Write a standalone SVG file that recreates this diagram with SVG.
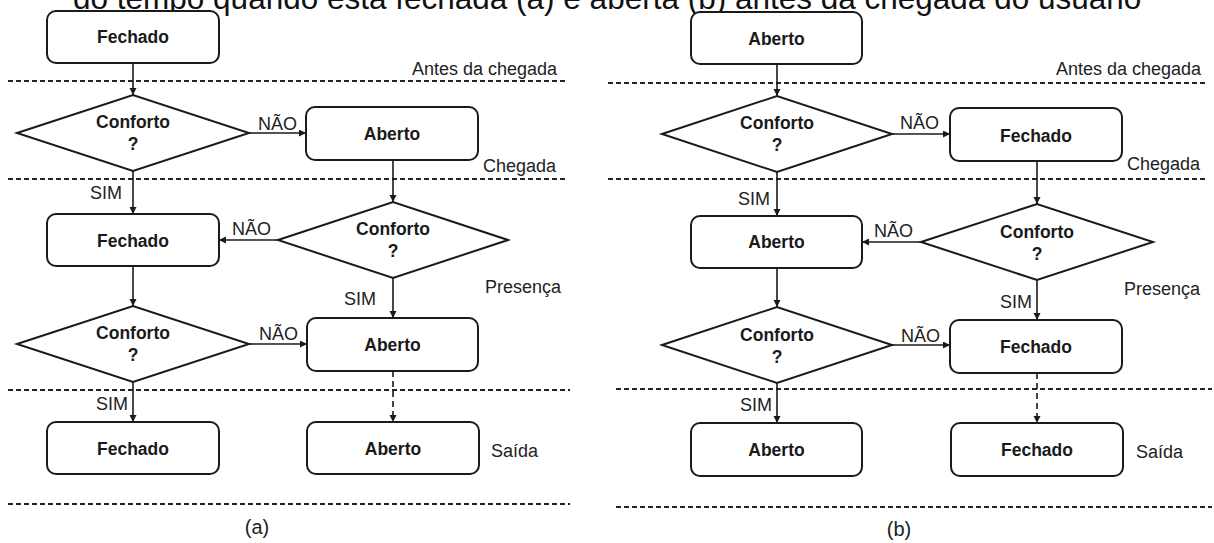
<svg xmlns="http://www.w3.org/2000/svg" width="1214" height="543" viewBox="0 0 1214 543">
<style>
.box{fill:#fff;stroke:#1a1a1a;stroke-width:2}
.dia{fill:#fff;stroke:#1a1a1a;stroke-width:2;stroke-linejoin:miter}
.nt{font-family:"Liberation Sans",Arial,sans-serif;font-weight:bold;font-size:17.5px;fill:#1a1a1a;text-anchor:middle}
.lb{font-family:"Liberation Sans",Arial,sans-serif;font-size:18px;fill:#222}
.end{text-anchor:end}
.mid{text-anchor:middle}
.sep{stroke:#222;stroke-width:1.8;stroke-dasharray:5 3;fill:none}
.conn{stroke:#1a1a1a;stroke-width:1.6;fill:none;marker-end:url(#ah)}
.dconn{stroke:#1a1a1a;stroke-width:1.6;fill:none;stroke-dasharray:6 4;marker-end:url(#ah)}
</style>
<defs>
<marker id="ah" markerUnits="userSpaceOnUse" markerWidth="8" markerHeight="8" refX="7" refY="3.5" orient="auto"><path d="M0,0 L7,3.5 L0,7 z" fill="#1a1a1a"/></marker>
</defs>
<rect width="1214" height="543" fill="#fff"/>
<text x="73" y="9" style="font-family:'Liberation Sans',Arial,sans-serif;font-size:31.5px;fill:#111">do tempo quando está fechada (a) e aberta (b) antes da chegada do usuário</text>

<g id="phases">
<line class="sep" x1="8" y1="81" x2="566" y2="81"/>
<line class="sep" x1="8" y1="179" x2="566" y2="179"/>
<line class="sep" x1="8" y1="390" x2="570" y2="390"/>
<line class="sep" x1="8" y1="504" x2="570" y2="504"/>
<text class="lb end" x="557" y="75">Antes da chegada</text>
<text class="lb end" x="556" y="172">Chegada</text>
<text class="lb" x="485" y="293">Presença</text>
<text class="lb" x="491" y="457">Saída</text>
<text class="lb mid" x="257" y="534" style="font-size:20px">(a)</text>
<line class="sep" x1="608" y1="83" x2="1205" y2="83"/>
<line class="sep" x1="608" y1="179" x2="1207" y2="179"/>
<line class="sep" x1="616" y1="389" x2="1212" y2="389"/>
<line class="sep" x1="616" y1="507" x2="1212" y2="507"/>
<text class="lb end" x="1201" y="75">Antes da chegada</text>
<text class="lb end" x="1200" y="170">Chegada</text>
<text class="lb" x="1124" y="295">Presença</text>
<text class="lb" x="1136" y="458">Saída</text>
<text class="lb mid" x="899" y="536" style="font-size:20px">(b)</text>
</g>

<g id="connectors">
<line class="conn" x1="133" y1="63" x2="133" y2="95"/>
<line class="conn" x1="249" y1="133" x2="306" y2="133"/>
<line class="conn" x1="393" y1="160" x2="393" y2="202"/>
<line class="conn" x1="133" y1="171" x2="133" y2="214"/>
<line class="conn" x1="278" y1="240" x2="219" y2="240"/>
<line class="conn" x1="133" y1="266" x2="133" y2="306"/>
<line class="conn" x1="393" y1="278" x2="393" y2="318"/>
<line class="conn" x1="249" y1="344" x2="307" y2="344"/>
<line class="conn" x1="133" y1="382" x2="133" y2="422"/>
<line class="dconn" x1="393" y1="371" x2="393" y2="422"/>
<text class="lb" x="258" y="130">NÃO</text>
<text class="lb" x="232" y="235">NÃO</text>
<text class="lb" x="259" y="340">NÃO</text>
<text class="lb" x="90" y="199">SIM</text>
<text class="lb" x="344" y="305">SIM</text>
<text class="lb" x="96" y="410">SIM</text>

<line class="conn" x1="777" y1="64" x2="777" y2="96"/>
<line class="conn" x1="892" y1="134" x2="950" y2="134"/>
<line class="conn" x1="1037" y1="161" x2="1037" y2="204"/>
<line class="conn" x1="777" y1="172" x2="777" y2="216"/>
<line class="conn" x1="921" y1="242" x2="862" y2="242"/>
<line class="conn" x1="777" y1="268" x2="777" y2="307"/>
<line class="conn" x1="1037" y1="280" x2="1037" y2="320"/>
<line class="conn" x1="892" y1="345" x2="950" y2="345"/>
<line class="conn" x1="777" y1="383" x2="777" y2="423"/>
<line class="dconn" x1="1037" y1="373" x2="1037" y2="423"/>
<text class="lb" x="900" y="129">NÃO</text>
<text class="lb" x="874" y="237">NÃO</text>
<text class="lb" x="901" y="342">NÃO</text>
<text class="lb" x="738" y="205">SIM</text>
<text class="lb" x="1000" y="308">SIM</text>
<text class="lb" x="740" y="411">SIM</text>
</g>

<g id="a-fechado-1"><rect class="box" x="47" y="11" width="172" height="52" rx="9"/><text class="nt" x="133" y="43">Fechado</text></g>
<g id="a-conforto-1"><polygon class="dia" points="17,133 133,95 249,133 133,171"/><text class="nt" x="133" y="128">Conforto</text><text class="nt" x="133" y="150">?</text></g>
<g id="a-aberto-1"><rect class="box" x="306" y="107" width="172" height="53" rx="9"/><text class="nt" x="392" y="140">Aberto</text></g>
<g id="a-fechado-2"><rect class="box" x="47" y="214" width="172" height="52" rx="9"/><text class="nt" x="133" y="246.5">Fechado</text></g>
<g id="a-conforto-2"><polygon class="dia" points="278,240 393,202 508,240 393,278"/><text class="nt" x="393" y="235">Conforto</text><text class="nt" x="393" y="257">?</text></g>
<g id="a-conforto-3"><polygon class="dia" points="17,344 133,306 249,344 133,382"/><text class="nt" x="133" y="339">Conforto</text><text class="nt" x="133" y="361">?</text></g>
<g id="a-aberto-2"><rect class="box" x="307" y="318" width="171" height="53" rx="9"/><text class="nt" x="392.5" y="351">Aberto</text></g>
<g id="a-fechado-3"><rect class="box" x="47" y="422" width="172" height="52" rx="9"/><text class="nt" x="133" y="454.5">Fechado</text></g>
<g id="a-aberto-3"><rect class="box" x="307" y="422" width="172" height="52" rx="9"/><text class="nt" x="393" y="454.5">Aberto</text></g>

<g id="b-aberto-1"><rect class="box" x="691" y="12" width="171" height="52" rx="9"/><text class="nt" x="776.5" y="45">Aberto</text></g>
<g id="b-conforto-1"><polygon class="dia" points="662,134 777,96 892,134 777,172"/><text class="nt" x="777" y="129">Conforto</text><text class="nt" x="777" y="151">?</text></g>
<g id="b-fechado-1"><rect class="box" x="950" y="108" width="172" height="53" rx="9"/><text class="nt" x="1036" y="141.5">Fechado</text></g>
<g id="b-aberto-2"><rect class="box" x="691" y="216" width="171" height="52" rx="9"/><text class="nt" x="776.5" y="248">Aberto</text></g>
<g id="b-conforto-2"><polygon class="dia" points="921,242 1037,204 1153,242 1037,280"/><text class="nt" x="1037" y="237.5">Conforto</text><text class="nt" x="1037" y="259.5">?</text></g>
<g id="b-conforto-3"><polygon class="dia" points="662,345 777,307 892,345 777,383"/><text class="nt" x="777" y="340.5">Conforto</text><text class="nt" x="777" y="362.5">?</text></g>
<g id="b-fechado-2"><rect class="box" x="950" y="320" width="172" height="53" rx="9"/><text class="nt" x="1036" y="353">Fechado</text></g>
<g id="b-aberto-3"><rect class="box" x="691" y="423" width="171" height="53" rx="9"/><text class="nt" x="776.5" y="456">Aberto</text></g>
<g id="b-fechado-3"><rect class="box" x="951" y="423" width="172" height="53" rx="9"/><text class="nt" x="1037" y="456">Fechado</text></g>
</svg>
